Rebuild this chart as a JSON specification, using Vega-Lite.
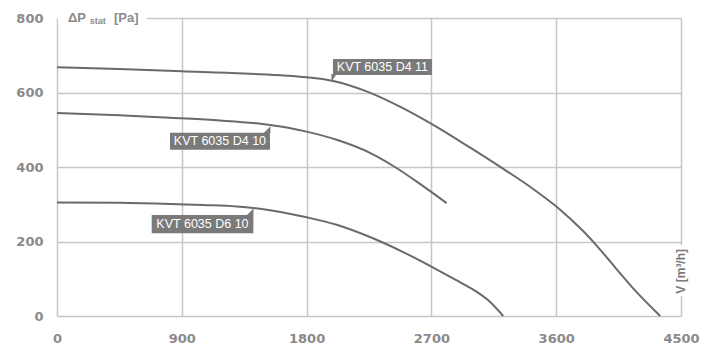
{
  "$schema": "https://vega.github.io/schema/vega-lite/v6.json",
  "width": 624,
  "height": 298,
  "autosize": {"type": "none"},
  "padding": {"left": 57, "top": 18, "right": 24, "bottom": 33},
  "background": "white",
  "config": {
    "view": {"stroke": null},
    "axis": {
      "grid": true,
      "gridColor": "#c6c6c6",
      "gridWidth": 1.5,
      "ticks": false,
      "domain": false,
      "labelFlush": false,
      "labelFont": "DejaVu Sans",
      "labelFontSize": 13,
      "labelFontWeight": "bold",
      "labelColor": "#8a8a8a"
    }
  },
  "datasets": {
    "curves": [
      {"series": "D4 11", "v": 0, "p": 668},
      {"series": "D4 11", "v": 450, "p": 663},
      {"series": "D4 11", "v": 900, "p": 657},
      {"series": "D4 11", "v": 1350, "p": 651},
      {"series": "D4 11", "v": 1800, "p": 641},
      {"series": "D4 11", "v": 1992, "p": 631},
      {"series": "D4 11", "v": 2233, "p": 603},
      {"series": "D4 11", "v": 2473, "p": 562},
      {"series": "D4 11", "v": 2713, "p": 513},
      {"series": "D4 11", "v": 2954, "p": 458},
      {"series": "D4 11", "v": 3194, "p": 401},
      {"series": "D4 11", "v": 3434, "p": 341},
      {"series": "D4 11", "v": 3614, "p": 290},
      {"series": "D4 11", "v": 3794, "p": 228},
      {"series": "D4 11", "v": 3915, "p": 179},
      {"series": "D4 11", "v": 4035, "p": 126},
      {"series": "D4 11", "v": 4155, "p": 74},
      {"series": "D4 11", "v": 4350, "p": 0},
      {"series": "D4 10", "v": 0, "p": 545},
      {"series": "D4 10", "v": 450, "p": 539},
      {"series": "D4 10", "v": 815, "p": 532},
      {"series": "D4 10", "v": 1175, "p": 525},
      {"series": "D4 10", "v": 1536, "p": 513},
      {"series": "D4 10", "v": 1657, "p": 506},
      {"series": "D4 10", "v": 1800, "p": 495},
      {"series": "D4 10", "v": 2017, "p": 473},
      {"series": "D4 10", "v": 2257, "p": 438},
      {"series": "D4 10", "v": 2437, "p": 400},
      {"series": "D4 10", "v": 2620, "p": 354},
      {"series": "D4 10", "v": 2810, "p": 303},
      {"series": "D6 10", "v": 0, "p": 305},
      {"series": "D6 10", "v": 450, "p": 304},
      {"series": "D6 10", "v": 815, "p": 301},
      {"series": "D6 10", "v": 1055, "p": 298},
      {"series": "D6 10", "v": 1296, "p": 294},
      {"series": "D6 10", "v": 1416, "p": 290},
      {"series": "D6 10", "v": 1536, "p": 284},
      {"series": "D6 10", "v": 1657, "p": 276},
      {"series": "D6 10", "v": 1800, "p": 265},
      {"series": "D6 10", "v": 2017, "p": 245},
      {"series": "D6 10", "v": 2257, "p": 212},
      {"series": "D6 10", "v": 2500, "p": 171},
      {"series": "D6 10", "v": 2713, "p": 130},
      {"series": "D6 10", "v": 2880, "p": 96},
      {"series": "D6 10", "v": 3010, "p": 69},
      {"series": "D6 10", "v": 3120, "p": 39},
      {"series": "D6 10", "v": 3218, "p": 0}
    ],
    "labels": [
      {"name": "KVT 6035 D4 11", "x1": 1990, "x2": 2704, "y1": 647, "y2": 690, "tx": 2347, "ty": 668, "px": 2008, "py": 639, "side": "down"},
      {"name": "KVT 6035 D4 10", "x1": 815, "x2": 1536, "y1": 446, "y2": 492, "tx": 1175, "ty": 469, "px": 1514, "py": 500, "side": "up"},
      {"name": "KVT 6035 D6 10", "x1": 683, "x2": 1416, "y1": 222, "y2": 271, "tx": 1049, "ty": 246, "px": 1392, "py": 279, "side": "up"}
    ]
  },
  "layer": [
    {
      "data": {"name": "curves"},
      "mark": {"type": "line", "color": "#6a6a6a", "strokeWidth": 2, "interpolate": "monotone"},
      "encoding": {
        "x": {"field": "v", "type": "quantitative", "title": null,
              "scale": {"domain": [0, 4500], "nice": false},
              "axis": {"values": [0, 900, 1800, 2700, 3600, 4500], "format": "d", "labelPadding": 16}},
        "y": {"field": "p", "type": "quantitative", "title": null,
              "scale": {"domain": [0, 800], "nice": false},
              "axis": {"values": [0, 200, 400, 600, 800], "format": "d", "labelPadding": 14}},
        "detail": {"field": "series"}
      }
    },
    {
      "data": {"name": "labels"},
      "mark": {"type": "rect", "color": "#7a7a7a"},
      "encoding": {
        "x": {"field": "x1", "type": "quantitative", "title": null},
        "x2": {"field": "x2"},
        "y": {"field": "y1", "type": "quantitative", "title": null},
        "y2": {"field": "y2"}
      }
    },
    {
      "data": {"name": "labels"},
      "transform": [{"filter": "datum.side === 'down'"}],
      "mark": {"type": "point", "filled": true, "color": "#7a7a7a", "opacity": 1, "size": 64, "strokeWidth": 0, "shape": "M-1,-1 L0.3,-1 L-1,1 Z"},
      "encoding": {
        "x": {"field": "px", "type": "quantitative", "title": null},
        "y": {"field": "py", "type": "quantitative", "title": null}
      }
    },
    {
      "data": {"name": "labels"},
      "transform": [{"filter": "datum.side === 'up'"}],
      "mark": {"type": "point", "filled": true, "color": "#7a7a7a", "opacity": 1, "size": 49, "strokeWidth": 0, "shape": "M1,-1 L1,1 L-1,1 Z"},
      "encoding": {
        "x": {"field": "px", "type": "quantitative", "title": null},
        "y": {"field": "py", "type": "quantitative", "title": null}
      }
    },
    {
      "data": {"name": "labels"},
      "mark": {"type": "text", "color": "white", "font": "Liberation Sans", "fontSize": 12.5, "align": "center", "baseline": "middle"},
      "encoding": {
        "x": {"field": "tx", "type": "quantitative", "title": null},
        "y": {"field": "ty", "type": "quantitative", "title": null},
        "text": {"field": "name"}
      }
    },
    {
      "data": {"values": [
        {"part": "ytitle", "x1": 8, "x2": 649, "y1": 785, "y2": 815},
        {"part": "xtitle", "x1": 4462, "x2": 4538, "y1": 54, "y2": 190}
      ]},
      "mark": {"type": "rect", "color": "white"},
      "encoding": {
        "x": {"field": "x1", "type": "quantitative", "title": null},
        "x2": {"field": "x2"},
        "y": {"field": "y1", "type": "quantitative", "title": null},
        "y2": {"field": "y2"}
      }
    },
    {
      "data": {"values": [
        {"t": "ΔP", "x": 79, "y": 800},
        {"t": "[Pa]", "x": 411, "y": 800}
      ]},
      "mark": {"type": "text", "color": "#8a8a8a", "font": "Liberation Sans", "fontSize": 13, "fontWeight": "bold", "align": "left", "baseline": "middle"},
      "encoding": {
        "x": {"field": "x", "type": "quantitative", "title": null},
        "y": {"field": "y", "type": "quantitative", "title": null},
        "text": {"field": "t"}
      }
    },
    {
      "data": {"values": [{"t": "stat", "x": 236, "y": 800}]},
      "mark": {"type": "text", "color": "#8a8a8a", "font": "Liberation Sans", "fontSize": 9, "fontWeight": "bold", "align": "left", "baseline": "middle", "dy": 3},
      "encoding": {
        "x": {"field": "x", "type": "quantitative", "title": null},
        "y": {"field": "y", "type": "quantitative", "title": null},
        "text": {"field": "t"}
      }
    },
    {
      "data": {"values": [{"t": "V [m³/h]", "x": 4500, "y": 120}]},
      "mark": {"type": "text", "color": "#7a7a7a", "font": "Liberation Sans", "fontSize": 12, "fontWeight": "bold", "align": "center", "baseline": "middle", "angle": 270},
      "encoding": {
        "x": {"field": "x", "type": "quantitative", "title": null},
        "y": {"field": "y", "type": "quantitative", "title": null},
        "text": {"field": "t"}
      }
    }
  ]
}
